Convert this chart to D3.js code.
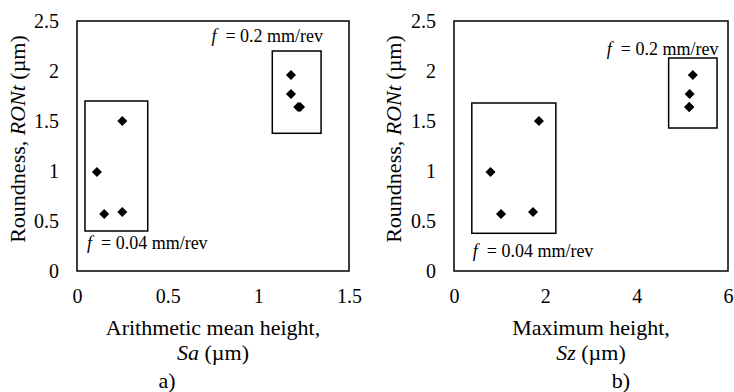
<!DOCTYPE html>
<html>
<head>
<meta charset="utf-8">
<script src="https://cdn.jsdelivr.net/npm/d3@7"></script>
<style>
  body { margin: 0; background: #fff; }
  svg text { font-family: "Times New Roman", "Liberation Serif", Tinos, "DejaVu Serif", serif !important; fill: #000; }
</style>
</head>
<body>
<div id="chart"></div>
<script>
// Roundness RONt (um) for the 8 samples, same in both panels
const ront = [0.99, 1.50, 0.57, 0.59, 1.96, 1.77, 1.64, 1.64];
// Arithmetic mean height Sa (um)
const sa = [0.11, 0.25, 0.15, 0.25, 1.18, 1.18, 1.22, 1.23];
// Maximum height Sz (um)
const sz = [0.80, 1.86, 1.03, 1.73, 5.23, 5.16, 5.15, 5.15];

const xTicksA = [0, 0.5, 1, 1.5];
const xTicksB = [0, 2, 4, 6];
const yTicks = [0, 0.5, 1, 1.5, 2, 2.5];

// group boxes in data units [x0, x1, y0, y1]
const boxesA = [[0.044, 0.39, 0.40, 1.70], [1.077, 1.346, 1.377, 2.20]];
const boxesB = [[0.39, 2.23, 0.377, 1.68], [4.70, 5.76, 1.43, 2.13]];

const feedLabels = ["0.2 mm/rev", "0.04 mm/rev"];

const width = 734, height = 392;
const svg = d3.select("#chart").append("svg")
    .attr("width", width)
    .attr("height", height);

function drawPanel(opt) {
    const x = d3.scaleLinear().domain(opt.xDomain).range([opt.left, opt.right]);
    const y = d3.scaleLinear().domain([0, 2.5]).range([271, 21]);
    const g = svg.append("g");

    // plot border
    g.append("rect")
        .attr("x", x(opt.xDomain[0])).attr("y", y(2.5))
        .attr("width", x(opt.xDomain[1]) - x(opt.xDomain[0]))
        .attr("height", y(0) - y(2.5))
        .attr("fill", "none").attr("stroke", "#000").attr("stroke-width", 1.5);

    // axes (labels only)
    const xAxis = g.append("g")
        .attr("transform", `translate(0,${y(0)})`)
        .call(d3.axisBottom(x).tickValues(opt.xTicks).tickSize(0).tickPadding(0).tickFormat(d3.format("")));
    xAxis.select(".domain").remove();
    xAxis.selectAll("text")
        .attr("y", 32).attr("dy", 0)
        .style("font-size", "20px");

    const yAxis = g.append("g")
        .attr("transform", `translate(${x(opt.xDomain[0])},0)`)
        .call(d3.axisLeft(y).tickValues(yTicks).tickSize(0).tickPadding(18).tickFormat(d3.format("")));
    yAxis.select(".domain").remove();
    yAxis.selectAll("text")
        .style("font-size", "20px");

    // group boxes
    g.selectAll(".grp")
        .data(opt.boxes)
        .enter()
        .append("rect")
        .attr("x", d => x(d[0]))
        .attr("y", d => y(d[3]))
        .attr("width", d => x(d[1]) - x(d[0]))
        .attr("height", d => y(d[2]) - y(d[3]))
        .attr("fill", "none").attr("stroke", "#000").attr("stroke-width", 1.5);

    // diamonds
    const sym = d3.symbol().type(d3.symbolDiamond2).size(64);
    g.selectAll(".pt")
        .data(opt.xs.map((v, i) => [v, ront[i]]))
        .enter()
        .append("path")
        .attr("d", sym)
        .attr("transform", d => `translate(${x(d[0])},${y(d[1])})`)
        .attr("fill", "#000");

    // feed annotations
    const top = g.append("text")
        .attr("x", x(opt.topLab[0])).attr("y", y(opt.topLab[1]))
        .attr("text-anchor", "end")
        .style("font-size", "18px");
    top.append("tspan").style("font-style", "italic").text("f");
    top.append("tspan").text("\u00a0 = " + feedLabels[0]);

    const bot = g.append("text")
        .attr("x", x(opt.botLab[0])).attr("y", y(opt.botLab[1]))
        .style("font-size", "18px");
    bot.append("tspan").style("font-style", "italic").text("f");
    bot.append("tspan").text("\u00a0 = " + feedLabels[1]);

    // x title
    const cx = (opt.left + opt.right) / 2;
    g.append("text")
        .attr("x", cx).attr("y", 335)
        .attr("text-anchor", "middle")
        .style("font-size", "22px")
        .text(opt.xTitle);
    const t2 = g.append("text")
        .attr("x", cx).attr("y", 360)
        .attr("text-anchor", "middle")
        .style("font-size", "22px");
    t2.append("tspan").style("font-style", "italic").text(opt.xSym);
    t2.append("tspan").text(" (\u00b5m)");

    // y title
    const yt = g.append("text")
        .attr("transform", `translate(${opt.yTitleX},139) rotate(-90)`)
        .attr("text-anchor", "middle")
        .style("font-size", "22px");
    yt.append("tspan").text("Roundness, ");
    yt.append("tspan").style("font-style", "italic").text("RONt");
    yt.append("tspan").text(" (\u00b5m)");

    // panel letter
    g.append("text")
        .attr("x", opt.letterX).attr("y", 388)
        .attr("text-anchor", "middle")
        .style("font-size", "22px")
        .text(opt.letter);
}

drawPanel({
    xDomain: [0, 1.5], left: 77, right: 349, xTicks: xTicksA,
    xs: sa, boxes: boxesA,
    topLab: [1.357, 2.29], botLab: [0.055, 0.22],
    xTitle: "Arithmetic mean height,", xSym: "Sa",
    yTitleX: 25, letterX: 167, letter: "a)"
});

drawPanel({
    xDomain: [0, 6], left: 454, right: 728, xTicks: xTicksB,
    xs: sz, boxes: boxesB,
    topLab: [5.79, 2.16], botLab: [0.41, 0.145],
    xTitle: "Maximum height,", xSym: "Sz",
    yTitleX: 401, letterX: 621, letter: "b)"
});
</script>
</body>
</html>
